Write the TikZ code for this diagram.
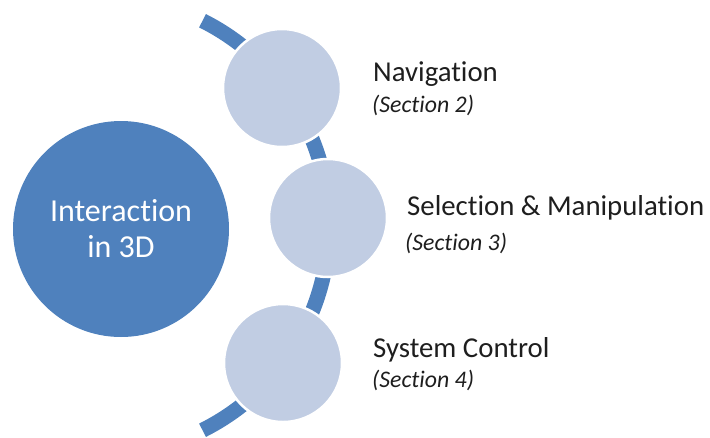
\documentclass[tikz,border=0pt]{standalone}
\usepackage{fontspec}
\setmainfont[Ligatures={NoCommon}]{Carlito}
\definecolor{darkblue}{RGB}{79,129,189}
\definecolor{lightblue}{RGB}{193,205,227}
\definecolor{txt}{RGB}{30,30,30}
\begin{document}
\begin{tikzpicture}[x=1pt,y=-1pt,
  bigcirc/.style={circle,fill=darkblue,minimum size=216pt,inner sep=0pt,text=white,align=center,font=\fontsize{32}{36}\selectfont},
  smallcirc/.style={circle,fill=lightblue,draw=white,line width=2.5pt,minimum size=118pt,inner sep=0pt},
  title/.style={anchor=base west,inner sep=0pt,text=txt,font=\fontsize{28.8}{32}\selectfont},
  sect/.style={anchor=base west,inner sep=0pt,text=txt,font=\fontsize{23.8}{26}\selectfont\itshape}]
\useasboundingbox (0,0) rectangle (710,437);
\clip (0,0) rectangle (710,437);
\coordinate (arcc) at (100,225.5);
\draw[darkblue,line width=15pt] (arcc) ++(63.4:229) arc[start angle=63.4,end angle=-63.4,radius=229];
\node[bigcirc] (main) at (121,229) {Interaction\\in 3D};
\node[smallcirc] (nav) at (282,88) {};
\node[smallcirc] (sel) at (328,218) {};
\node[smallcirc] (sys) at (283,363) {};
\node[title] (navt) at (373,81) {Navigation};
\node[sect] (navs) at (372,112) {(Section 2)};
\node[title] (selt) at (407,215) {Selection \& Manipulation};
\node[sect] (sels) at (405,250) {(Section 3)};
\node[title] (syst) at (373,357) {System Control};
\node[sect] (syss) at (372,387) {(Section 4)};
\end{tikzpicture}
\end{document}
